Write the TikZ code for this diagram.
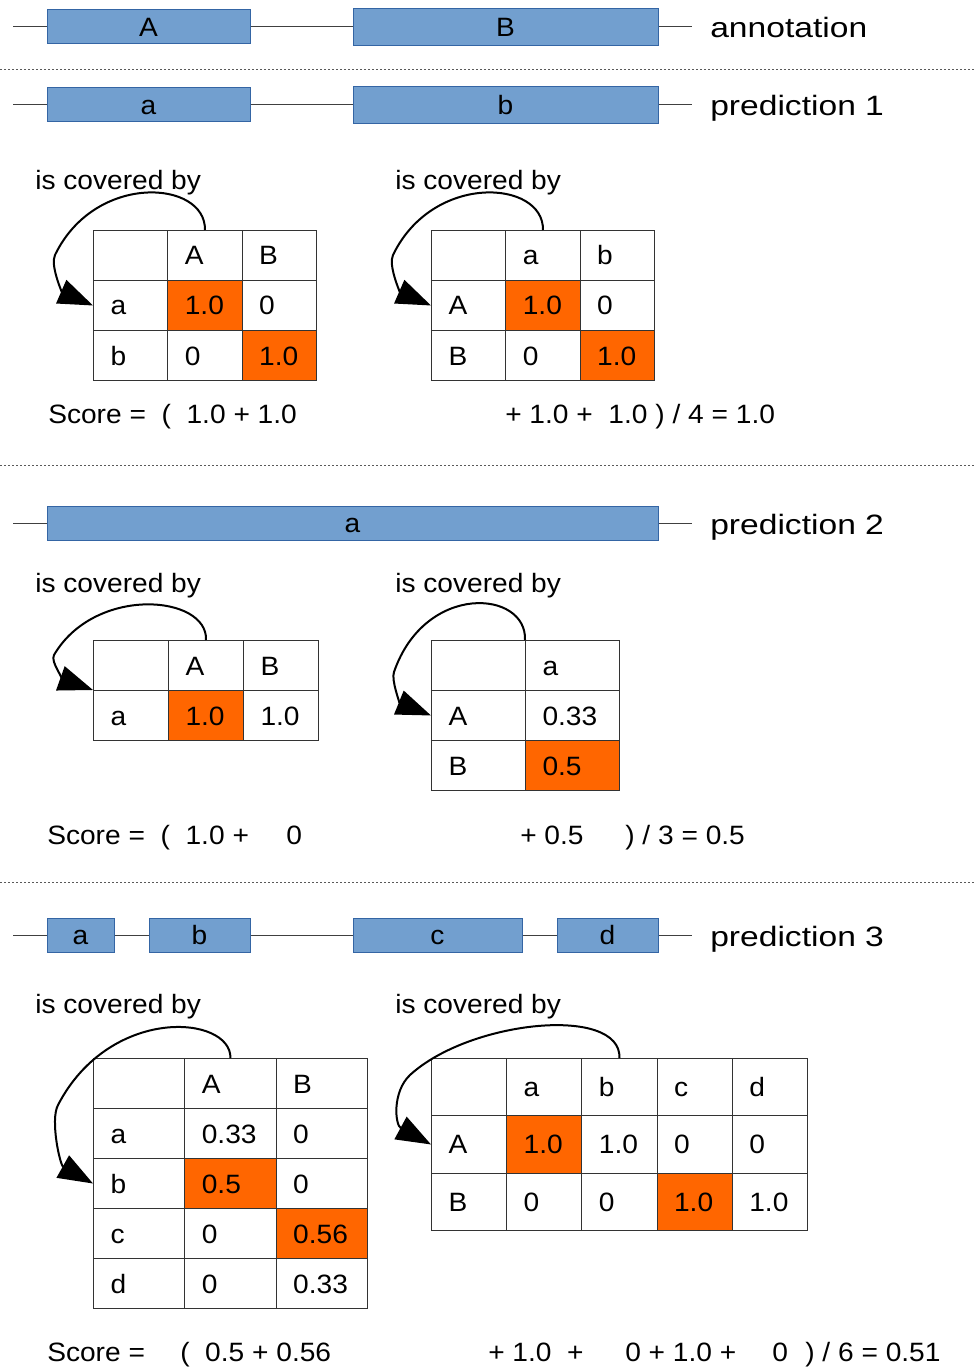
\documentclass[tikz,border=0pt]{standalone}
\usepackage{fontspec}
\setmainfont{Liberation Sans}[FakeStretch=1.06]
\newfontfamily\lblfont{Liberation Sans}[FakeStretch=1.2]
\usetikzlibrary{arrows.meta}
\definecolor{barfill}{RGB}{114,159,207}
\definecolor{barline}{RGB}{52,101,164}
\definecolor{hotfill}{RGB}{255,102,0}
\definecolor{gridline}{RGB}{51,51,51}
\begin{document}
\begin{tikzpicture}[x=0.75pt,y=-0.75pt,
  font=\fontsize{19.9}{24}\selectfont,
  bar/.style={draw=barline, fill=barfill, line width=0.75pt, inner sep=0pt, minimum height=25.5pt, text height=14.25pt, text depth=0pt},
  backbone/.style={draw=black!75, line width=0.75pt},
  sepline/.style={draw=black!65, line width=0.75pt, dash pattern=on 1.5pt off 1.5pt},
  lbl/.style={anchor=base west, inner sep=0pt, font=\lblfont\fontsize{21}{25}\selectfont},
  txt/.style={anchor=base west, inner sep=0pt},
  cell/.style={draw=gridline, line width=0.75pt, anchor=north west, inner xsep=12.75pt, inner ysep=0pt, align=left, text height=14.25pt, text depth=0pt},
  hot/.style={fill=hotfill},
  ca/.style={cell, text width=30.25pt, minimum height=37.5pt},
  cb/.style={cell, text width=30.75pt, minimum height=37.5pt},
  cc/.style={cell, text width=45pt, minimum height=37.5pt},
  cd/.style={cell, text width=43pt, minimum height=37.5pt},
  ce/.style={cell, text width=30.9pt, minimum height=43pt},
  cov/.style={line width=1.5pt, -{Triangle[length=26pt,width=19pt]}}
]
\useasboundingbox (0,0) rectangle (976,1369);

% ---------- annotation ----------
\coordinate (an-l) at (13,27);
\coordinate (an-r) at (692,27);
\node[bar, minimum width=152.25pt] (anA) at (148.5,27) {A};
\node[bar, minimum width=228.75pt, minimum height=27.75pt] (anB) at (505.5,27) {B};
\draw[backbone] (an-l) -- (anA.west) (anA.east) -- (anB.west) (anB.east) -- (an-r);
\node[lbl] (lab-an) at (710,38) {annotation};

\coordinate (s1l) at (0,70); \coordinate (s1r) at (976,70);
\draw[sepline] (s1l) -- (s1r);

% ---------- prediction 1 ----------
\coordinate (p1-l) at (13,105);
\coordinate (p1-r) at (692,105);
\node[bar, minimum width=152.25pt] (p1a) at (148.5,105) {a};
\node[bar, minimum width=228.75pt, minimum height=27.75pt] (p1b) at (505.5,105) {b};
\draw[backbone] (p1-l) -- (p1a.west) (p1a.east) -- (p1b.west) (p1b.east) -- (p1-r);
\node[lbl] (lab-p1) at (710,116) {prediction 1};

\node[txt] (cov1) at (35,190) {is covered by};
\node[txt] (cov2) at (395,190) {is covered by};

% table 1
\node[ca] (t1-0-0) at (93,230) {};
\node[ca] (t1-0-1) at (167.3,230) {A};
\node[ca] (t1-0-2) at (241.7,230) {B};
\node[ca] (t1-1-0) at (93,280) {a};
\node[ca,hot] (t1-1-1) at (167.3,280) {1.0};
\node[ca] (t1-1-2) at (241.7,280) {0};
\node[ca] (t1-2-0) at (93,330) {b};
\node[ca] (t1-2-1) at (167.3,330) {0};
\node[ca,hot] (t1-2-2) at (241.7,330) {1.0};
\draw[cov] (t1-0-1.north) .. controls (206,180) and (95,172) .. (55,255) .. controls (50,265) and (62,292) .. (t1-1-0.west);

% table 2
\node[ca] (t2-0-0) at (431,230) {};
\node[ca] (t2-0-1) at (505.3,230) {a};
\node[ca] (t2-0-2) at (579.7,230) {b};
\node[ca] (t2-1-0) at (431,280) {A};
\node[ca,hot] (t2-1-1) at (505.3,280) {1.0};
\node[ca] (t2-1-2) at (579.7,280) {0};
\node[ca] (t2-2-0) at (431,330) {B};
\node[ca] (t2-2-1) at (505.3,330) {0};
\node[ca,hot] (t2-2-2) at (579.7,330) {1.0};
\draw[cov] (t2-0-1.north) .. controls (544,180) and (433,172) .. (393,255) .. controls (388,265) and (400,292) .. (t2-1-0.west);

\node[txt] (sc1a) at (48,423) {Score =~~(~~1.0 + 1.0};
\node[txt] (sc1b) at (505,423) {+ 1.0 +~~1.0 ) / 4 = 1.0};

\coordinate (s2l) at (0,465); \coordinate (s2r) at (976,465);
\draw[sepline] (s2l) -- (s2r);

% ---------- prediction 2 ----------
\coordinate (p2-l) at (13,523);
\coordinate (p2-r) at (692,523);
\node[bar, minimum width=458.25pt] (p2a) at (352.5,523) {a};
\draw[backbone] (p2-l) -- (p2a.west) (p2a.east) -- (p2-r);
\node[lbl] (lab-p2) at (710,534) {prediction 2};

\node[txt] (cov3) at (35,592) {is covered by};
\node[txt] (cov4) at (395,592) {is covered by};

% table 3
\node[cb] (t3-0-0) at (93,640) {};
\node[cb] (t3-0-1) at (168,640) {A};
\node[cb] (t3-0-2) at (243,640) {B};
\node[cb] (t3-1-0) at (93,690) {a};
\node[cb,hot] (t3-1-1) at (168,690) {1.0};
\node[cb] (t3-1-2) at (243,690) {1.0};
\draw[cov] (t3-0-1.north) .. controls (208,595) and (95,585) .. (54,655) .. controls (50,662) and (65,680) .. (t3-1-0.north west);

% table 4
\node[cc] (t4-0-0) at (431,640) {};
\node[cc] (t4-0-1) at (525,640) {a};
\node[cc] (t4-1-0) at (431,690) {A};
\node[cc] (t4-1-1) at (525,690) {0.33};
\node[cc] (t4-2-0) at (431,740) {B};
\node[cc,hot] (t4-2-1) at (525,740) {0.5};
\draw[cov] (t4-0-1.north west) .. controls (527,590) and (425,582) .. (394,672) .. controls (391,680) and (400,703) .. (t4-1-0.west);

\node[txt] (sc2a) at (47,844) {Score =~~(~~1.0 +};
\node[txt] (sc2b) at (286,844) {0};
\node[txt] (sc2c) at (520,844) {+ 0.5};
\node[txt] (sc2d) at (625,844) {) / 3 = 0.5};

\coordinate (s3l) at (0,882); \coordinate (s3r) at (976,882);
\draw[sepline] (s3l) -- (s3r);

% ---------- prediction 3 ----------
\coordinate (p3-l) at (13,935);
\coordinate (p3-r) at (692,935);
\node[bar, minimum width=50.25pt] (p3a) at (80.5,935) {a};
\node[bar, minimum width=75.75pt] (p3b) at (199.5,935) {b};
\node[bar, minimum width=126.75pt] (p3c) at (437.5,935) {c};
\node[bar, minimum width=75.75pt] (p3d) at (607.5,935) {d};
\draw[backbone] (p3-l) -- (p3a.west) (p3a.east) -- (p3b.west) (p3b.east) -- (p3c.west)
  (p3c.east) -- (p3d.west) (p3d.east) -- (p3-r);
\node[lbl] (lab-p3) at (710,946) {prediction 3};

\node[txt] (cov5) at (35,1013) {is covered by};
\node[txt] (cov6) at (395,1013) {is covered by};

% table 5
\node[cd] (t5-0-0) at (93,1058) {};
\node[cd] (t5-0-1) at (184.3,1058) {A};
\node[cd] (t5-0-2) at (275.7,1058) {B};
\node[cd] (t5-1-0) at (93,1108) {a};
\node[cd] (t5-1-1) at (184.3,1108) {0.33};
\node[cd] (t5-1-2) at (275.7,1108) {0};
\node[cd] (t5-2-0) at (93,1158) {b};
\node[cd,hot] (t5-2-1) at (184.3,1158) {0.5};
\node[cd] (t5-2-2) at (275.7,1158) {0};
\node[cd] (t5-3-0) at (93,1208) {c};
\node[cd] (t5-3-1) at (184.3,1208) {0};
\node[cd,hot] (t5-3-2) at (275.7,1208) {0.56};
\node[cd] (t5-4-0) at (93,1258) {d};
\node[cd] (t5-4-1) at (184.3,1258) {0};
\node[cd] (t5-4-2) at (275.7,1258) {0.33};
\draw[cov] (t5-0-1.north) .. controls (231,1015) and (110,1005) .. (58,1105) .. controls (50,1120) and (60,1165) .. (t5-2-0.west);

% table 6
\node[ce] (t6-0-0) at (431,1058) {};
\node[ce] (t6-0-1) at (506.2,1058) {a};
\node[ce] (t6-0-2) at (581.4,1058) {b};
\node[ce] (t6-0-3) at (656.6,1058) {c};
\node[ce] (t6-0-4) at (731.8,1058) {d};
\node[ce] (t6-1-0) at (431,1115.3) {A};
\node[ce,hot] (t6-1-1) at (506.2,1115.3) {1.0};
\node[ce] (t6-1-2) at (581.4,1115.3) {1.0};
\node[ce] (t6-1-3) at (656.6,1115.3) {0};
\node[ce] (t6-1-4) at (731.8,1115.3) {0};
\node[ce] (t6-2-0) at (431,1172.7) {B};
\node[ce] (t6-2-1) at (506.2,1172.7) {0};
\node[ce] (t6-2-2) at (581.4,1172.7) {0};
\node[ce,hot] (t6-2-3) at (656.6,1172.7) {1.0};
\node[ce] (t6-2-4) at (731.8,1172.7) {1.0};
\draw[cov] (t6-0-2.north) .. controls (621,1005) and (470,1020) .. (410,1075) .. controls (392,1092) and (395,1125) .. (t6-1-0.west);

\node[txt] (sc3a) at (47,1361) {Score =};
\node[txt] (sc3b) at (180,1361) {(~~0.5 + 0.56};
\node[txt] (sc3c) at (488,1361) {+ 1.0~~+};
\node[txt] (sc3d) at (625,1361) {0 + 1.0 +};
\node[txt] (sc3e) at (772,1361) {0};
\node[txt] (sc3f) at (805,1361) {) / 6 = 0.51};
\end{tikzpicture}
\end{document}
